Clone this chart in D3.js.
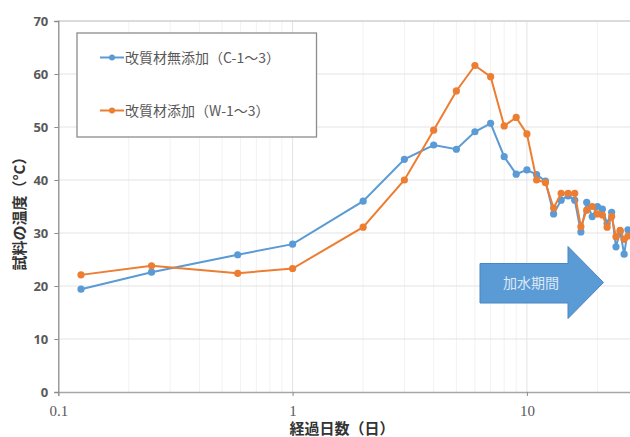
<!DOCTYPE html>
<html><head><meta charset="utf-8">
<script src="https://cdn.jsdelivr.net/npm/d3@7"></script>
<style>
html,body{margin:0;padding:0;background:#fff;}
svg{display:block;}
</style></head>
<body>
<svg id="chart" width="630" height="437"></svg>
<script>
const days = [0.125, 0.25, 0.583, 1, 2, 3, 4, 5, 6, 7, 8, 9, 10, 11, 12, 13, 14, 15, 16, 17, 18, 19, 20, 21, 22, 23, 24, 25, 26, 27];
const seriesC = [19.4, 22.6, 25.9, 27.9, 36.0, 43.9, 46.6, 45.8, 49.1, 50.7, 44.4, 41.1, 41.9, 41.0, 39.8, 33.6, 36.2, 37.0, 36.2, 30.2, 35.8, 33.1, 35.0, 34.5, 31.8, 33.9, 27.4, 30.3, 26.0, 30.6];
const seriesW = [22.1, 23.8, 22.4, 23.3, 31.1, 40.0, 49.4, 56.8, 61.6, 59.5, 50.2, 51.8, 48.7, 40.0, 39.5, 34.7, 37.5, 37.5, 37.5, 31.2, 34.3, 35.0, 33.6, 33.4, 31.1, 33.1, 29.3, 30.5, 28.8, 29.4];
const seriesNames = ["改質材無添加（C-1～3）", "改質材添加（W-1～3）"];
const seriesColors = ["#5b9bd5", "#ed7d31"];
const xTicks = [0.1, 1, 10];
const xTickLabels = ["0.1", "1", "10"];
const yTicks = [0, 10, 20, 30, 40, 50, 60, 70];
const xTitle = "経過日数（日）";
const yTitle = "試料の温度（°C）";
const arrowText = "加水期間";

(function () {
const svg = d3.select("#chart");
const mLeft = 58.3, mBottom = 392, mTop = 21, decade = 234.3;
const x = d3.scaleLog().domain([0.1, 100]).range([mLeft, mLeft + 3 * decade]);
const y = d3.scaleLinear().domain([0, 70]).range([mBottom, mTop]);
const plotRight = 630;

const jp = "'Noto Sans CJK JP', 'Noto Sans', sans-serif";

// minor vertical gridlines
const minor = [];
[0.1, 1, 10].forEach(d => { for (let k = 2; k <= 9; k++) minor.push(d * k); });
svg.append("g").selectAll("line").data(minor.filter(v => x(v) < plotRight)).join("line")
  .attr("x1", d => x(d)).attr("x2", d => x(d)).attr("y1", mTop).attr("y2", mBottom)
  .attr("stroke", "#f2f2f2").attr("stroke-width", 1);
// major vertical gridlines
svg.append("g").selectAll("line").data([1, 10]).join("line")
  .attr("x1", d => x(d)).attr("x2", d => x(d)).attr("y1", mTop).attr("y2", mBottom)
  .attr("stroke", "#e3e3e3").attr("stroke-width", 1);
// horizontal gridlines
svg.append("g").selectAll("line").data(yTicks.slice(1)).join("line")
  .attr("x1", mLeft).attr("x2", plotRight).attr("y1", d => y(d)).attr("y2", d => y(d))
  .attr("stroke", d => d === 70 ? "#cfcfcf" : "#e3e3e3").attr("stroke-width", d => d === 70 ? 1.5 : 1);

// y axis
const yAxis = d3.axisLeft(y).tickValues(yTicks).tickSize(4).tickPadding(6);
const gy = svg.append("g").attr("transform", `translate(${mLeft},0)`).call(yAxis);
gy.select(".domain").attr("stroke", "#8c8c8c").attr("stroke-width", 1.3);
gy.selectAll(".tick line").attr("stroke", "#8c8c8c");
gy.selectAll(".tick text").attr("fill", "#595959").attr("font-family", "'Open Sans', 'Noto Sans', sans-serif")
  .attr("font-weight", "bold").attr("font-size", 13);

// x axis
const xAxis = d3.axisBottom(x).tickValues(xTicks).tickFormat((d, i) => xTickLabels[i]).tickSize(4).tickPadding(9);
const gx = svg.append("g").attr("transform", `translate(0,${mBottom})`).call(xAxis);
gx.select(".domain").attr("stroke", "#a6a6a6").attr("stroke-width", 1.3);
gx.selectAll(".tick line").attr("stroke", "#8c8c8c");
gx.selectAll(".tick text").attr("fill", "#595959").attr("font-family", "'Liberation Serif', 'DejaVu Serif', serif")
  .attr("font-size", 15);

// arrow
const ax0 = 480, ax1 = 568, ax2 = 603.5, ay0 = 263.5, ay1 = 303, hy0 = 246.5, hy1 = 318.5, ym = 282.5;
svg.append("path")
  .attr("d", `M${ax0},${ay0} L${ax1},${ay0} L${ax1},${hy0} L${ax2},${ym} L${ax1},${hy1} L${ax1},${ay1} L${ax0},${ay1} Z`)
  .attr("fill", "#5b9bd5").attr("stroke", "#4a86c0").attr("stroke-width", 1);
svg.append("text").attr("x", 531).attr("y", ym).attr("dy", "0.36em").attr("text-anchor", "middle")
  .attr("fill", "#dfe9f5").attr("font-family", jp).attr("font-size", 14).text(arrowText);

// series
svg.append("clipPath").attr("id", "clip").append("rect")
  .attr("x", mLeft).attr("y", 0).attr("width", plotRight - mLeft).attr("height", mBottom + 6);
const plot = svg.append("g").attr("clip-path", "url(#clip)");
const line = d3.line().x(d => x(d[0])).y(d => y(d[1]));
[seriesC, seriesW].forEach((vals, i) => {
  const pts = days.map((d, j) => [d, vals[j]]);
  plot.append("path").datum(pts).attr("d", line).attr("fill", "none")
    .attr("stroke", seriesColors[i]).attr("stroke-width", 2);
  plot.append("g").selectAll("circle").data(pts).join("circle")
    .attr("cx", d => x(d[0])).attr("cy", d => y(d[1])).attr("r", 3.6).attr("fill", seriesColors[i]);
});

// legend
const lg = svg.append("g");
lg.append("rect").attr("x", 77).attr("y", 33).attr("width", 239.5).attr("height", 104)
  .attr("fill", "#fff").attr("stroke", "#8c8c8c").attr("stroke-width", 1.3);
seriesNames.forEach((name, i) => {
  const yy = i === 0 ? 57.5 : 110.5;
  lg.append("line").attr("x1", 100).attr("x2", 124).attr("y1", yy).attr("y2", yy)
    .attr("stroke", seriesColors[i]).attr("stroke-width", 2);
  lg.append("circle").attr("cx", 112).attr("cy", yy).attr("r", 3).attr("fill", seriesColors[i]);
  lg.append("text").attr("x", 125).attr("y", yy).attr("dy", "0.36em").attr("fill", "#595959")
    .attr("font-family", jp).attr("font-size", 14).text(name);
});

// axis titles
svg.append("text").attr("x", 342).attr("y", 434).attr("text-anchor", "middle")
  .attr("fill", "#333").attr("font-family", jp).attr("font-weight", "bold").attr("font-size", 15).text(xTitle);
svg.append("text").attr("transform", "translate(25,210) rotate(-90)").attr("text-anchor", "middle")
  .attr("fill", "#333").attr("font-family", jp).attr("font-weight", "bold").attr("font-size", 15).text(yTitle);
})();
</script>
</body></html>
